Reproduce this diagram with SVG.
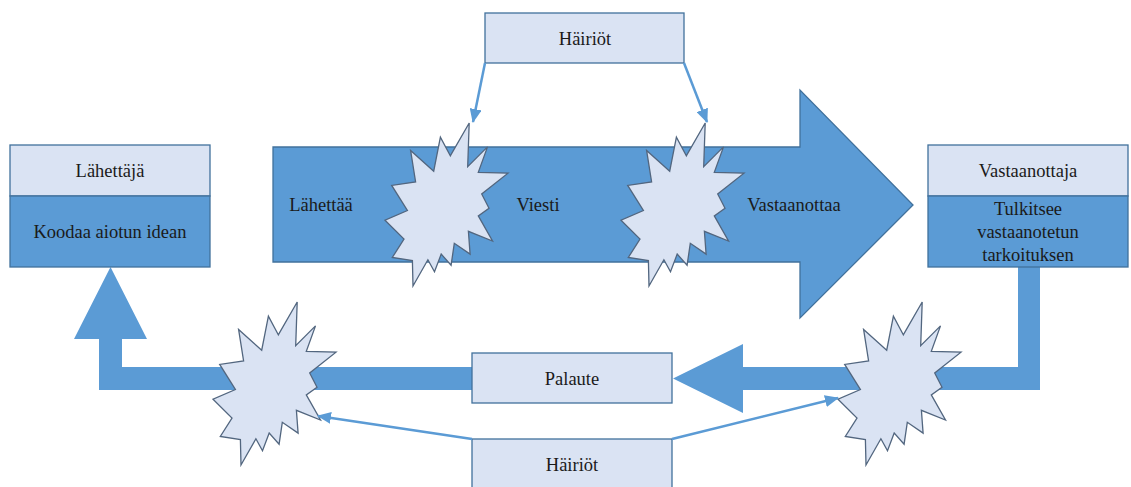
<svg xmlns="http://www.w3.org/2000/svg" width="1131" height="487" viewBox="0 0 1131 487" font-family="'Liberation Serif', 'DejaVu Serif', serif">
  <style>
    .light { fill: #dae3f3; stroke: #41719c; stroke-width: 1.3; }
    .dark { fill: #5b9bd5; stroke: #41719c; stroke-width: 1.3; }
    .band { fill: #5b9bd5; }
    .burst { fill: #dae3f3; stroke: #52667f; stroke-width: 1.3; stroke-linejoin: miter; }
    .lbl { font-family: 'Liberation Serif', 'DejaVu Serif', serif; font-size: 18.5px; fill: #1a1a1a; text-anchor: middle; }
    .link { stroke: #5b9bd5; stroke-width: 2.5; fill: none; }
  </style>
  <defs>
    <marker id="head" viewBox="0 0 14 12" refX="13" refY="6" markerWidth="14" markerHeight="12" markerUnits="userSpaceOnUse" orient="auto">
      <path d="M0,0 L14,6 L0,12 Z" fill="#5b9bd5"/>
    </marker>
    <!-- explosion outline, 123 x 163 -->
    <polygon id="burst" class="burst" points="65.3,32.8 55.4,14.2 48.7,48.2 25.6,27.4 30.6,59 6.7,62.4 22.4,87.5 0,97.2 19,116 7.3,134.5 27.4,137.6 28,163 42.9,136.8 49.5,148.8 56.2,131.1 66.1,142.2 69.3,120.3 85.1,131.1 83.4,108.3 107.5,118 93.3,92.9 104,85.2 96.7,71 123,50.2 93.3,49.3 102.5,23.9 82.7,43.6 84.2,0"/>
  </defs>

  <!-- message arrow -->
  <g id="message">
    <polygon class="dark" points="273,147 800,147 800,90 913,205 800,318 800,262 273,262"/>
    <text class="lbl" x="321" y="211">Lähettää</text>
    <text class="lbl" x="538" y="211">Viesti</text>
    <text class="lbl" x="794" y="211">Vastaanottaa</text>
  </g>

  <!-- feedback path -->
  <g id="feedback">
    <polygon class="band" points="1018,267 1040,267 1040,390 743,390 743,413 673,378.5 743,344 743,367 1018,367"/>
    <polygon class="band" points="472,367 472,390 99,390 99,339 74,339 110.5,267 147,339 122,339 122,367"/>
  </g>

  <g id="sender">
    <rect class="light" x="10" y="145" width="200" height="51"/>
    <rect class="dark" x="10" y="196" width="200" height="71"/>
    <text class="lbl" x="110" y="177">Lähettäjä</text>
    <text class="lbl" x="110" y="238">Koodaa aiotun idean</text>
  </g>

  <g id="receiver">
    <rect class="light" x="928" y="145" width="200" height="51"/>
    <rect class="dark" x="928" y="196" width="200" height="71"/>
    <text class="lbl" x="1028" y="177">Vastaanottaja</text>
    <text class="lbl" x="1028" y="215">Tulkitsee</text>
    <text class="lbl" x="1028" y="238">vastaanotetun</text>
    <text class="lbl" x="1028" y="261">tarkoituksen</text>
  </g>

  <g id="noise-top">
    <rect class="light" x="485" y="13" width="199" height="50"/>
    <text class="lbl" x="585" y="45">Häiriöt</text>
  </g>

  <g id="feedback-box">
    <rect class="light" x="472" y="353" width="200" height="50"/>
    <text class="lbl" x="572" y="385">Palaute</text>
  </g>

  <g id="noise-bottom">
    <rect class="light" x="472" y="439" width="200" height="60"/>
    <text class="lbl" x="572" y="471">Häiriöt</text>
  </g>

  <g id="burst-1"><use href="#burst" x="385" y="123"/></g>
  <g id="burst-2"><use href="#burst" x="621" y="123"/></g>
  <g id="burst-3"><use href="#burst" x="213" y="302"/></g>
  <g id="burst-4"><use href="#burst" x="838" y="302"/></g>

  <g id="connectors">
    <line class="link" x1="485" y1="63" x2="473" y2="122" marker-end="url(#head)"/>
    <line class="link" x1="684" y1="63" x2="707" y2="122" marker-end="url(#head)"/>
    <line class="link" x1="472" y1="439" x2="318" y2="416" marker-end="url(#head)"/>
    <line class="link" x1="672" y1="439" x2="838" y2="398" marker-end="url(#head)"/>
  </g>
</svg>
